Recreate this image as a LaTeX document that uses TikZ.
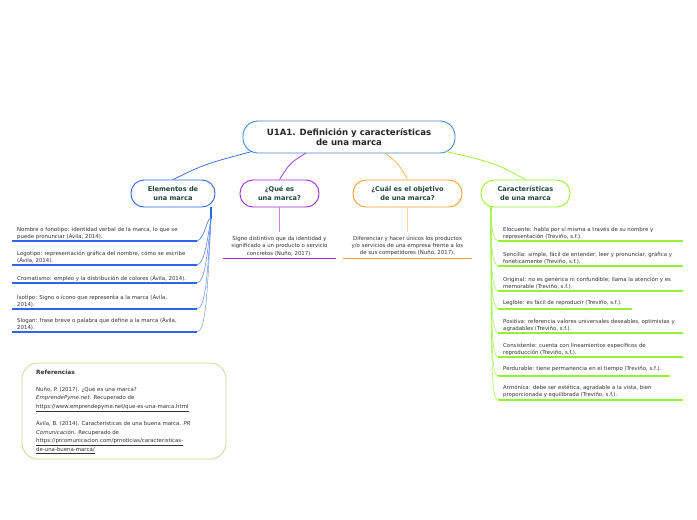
\documentclass[tikz,border=0pt]{standalone}
\usepackage{fontspec}
\setmainfont{DejaVu Sans}
\begin{document}
\begin{tikzpicture}[x=1pt,y=-1pt,
  small/.style={font=\fontsize{5.4}{7.1}\selectfont, text=black!80},
  topic/.style={draw, line width=0.9pt, rounded corners=13pt, minimum height=27pt, align=center,
     font=\fontsize{6.6}{9}\selectfont\bfseries, text={rgb,255:red,30;green,70;blue,55}, fill=white},
  item/.style={small, anchor=south west, inner sep=0pt, align=left},
  citem/.style={small, anchor=south, inner sep=0pt, align=center}]
\definecolor{cblue}{RGB}{45,100,240}
\definecolor{cpurple}{RGB}{160,40,230}
\definecolor{corange}{RGB}{245,160,40}
\definecolor{cgreen}{RGB}{150,240,50}
\definecolor{croot}{RGB}{60,140,210}
\definecolor{cref}{RGB}{210,215,150}
\useasboundingbox (0,0) rectangle (697,520);
\fill[white] (0,0) rectangle (697,520);

% root
\node[draw=croot, line width=0.9pt, rounded corners=15pt, minimum width=212pt, minimum height=32pt,
  align=center, font=\fontsize{8.6}{10.5}\selectfont\bfseries, text=black!85, fill=white] (root) at (349,137)
  {U1A1. Definición y características\\de una marca};

% topics
\node[topic, draw=cblue, minimum width=84pt] (elem) at (173,193.5) {Elementos de\\una marca};
\node[topic, draw=cpurple, minimum width=79pt] (que) at (279.5,193.5) {¿Qué es\\una marca?};
\node[topic, draw=corange, minimum width=109pt] (cual) at (407.5,193.5) {¿Cuál es el objetivo\\de una marca?};
\node[topic, draw=cgreen, minimum width=89pt] (car) at (525.5,193.5) {Características\\de una marca};

% root connectors
\coordinate (rb) at (252,151.5);
\coordinate (rp) at (306,153);
\coordinate (ro) at (385,153);
\coordinate (rg) at (446,151.5);
\draw[cblue, line width=0.7pt] (rb) .. controls (205,164) .. (elem.north);
\draw[cpurple, line width=0.7pt] (rp) .. controls (290,163) .. (que.north);
\draw[corange!80, line width=0.7pt] (ro) .. controls (398,163) .. (cual.north);
\draw[cgreen, line width=0.7pt] (rg) .. controls (495,163) .. (car.north);

% Elementos children
\coordinate (ef) at (211,219);
\draw[cblue, line width=2pt] (211,207) -- (ef);
\foreach \y/\w in {241/0.7,265/0.6,283/0.5,309/0.45,332/0.4} {
  \draw[cblue!80, line width=\w pt] (ef) .. controls (207,\y-25) and (205,\y-2) .. (197,\y);
  \draw[cblue, line width=1.6pt] (12,\y) -- (197,\y);
}
\node[item] (e1) at (17,239.5) {Nombre o fonotipo: identidad verbal de la marca, lo que se\\puede pronunciar (Ávila, 2014).};
\node[item] (e2) at (17,263.5) {Logotipo: representación gráfica del nombre, cómo se escribe\\(Ávila, 2014).};
\node[item] (e3) at (17,281.5) {Cromatismo: empleo y la distribución de colores (Ávila, 2014).};
\node[item] (e4) at (17,307.5) {Isotipo: Signo o ícono que representa a la marca (Ávila,\\2014).};
\node[item] (e5) at (17,330.5) {Slogan: frase breve o palabra que define a la marca (Ávila,\\2014).};

% Qué es
\coordinate (qe) at (279.5,232);
\draw[cpurple!60, line width=0.6pt] (que.south) -- (qe);
\node[citem] (q1) at (279.5,256) {Signo distintivo que da identidad y\\significado a un producto o servicio\\concretos (Nuño, 2017).};
\draw[cpurple, line width=1.6pt] (223,258.5) -- (336,258.5);

% Cuál
\coordinate (ce) at (407.5,232);
\draw[corange!50, line width=0.6pt] (cual.south) -- (ce);
\node[citem] (c1) at (407.5,256) {Diferenciar y hacer únicos los productos\\y/o servicios de una empresa frente a los\\de sus competidores (Nuño, 2017).};
\draw[corange, line width=1.6pt] (343,258.5) -- (472,258.5);

% Características children
\coordinate (gf) at (491,210);
\draw[cgreen, line width=1.6pt] (491,207) -- (gf);
\foreach \y/\e in {241/683,266/683,291/683,309/632,333/683,357/683,376/670,400/683} {
  \draw[cgreen!80, line width=0.6pt] (gf) .. controls (491,\y-20) and (492,\y-2) .. (498,\y);
  \draw[cgreen, line width=1.6pt] (498,\y) -- (\e,\y);
}
\node[item] (g1) at (503,239.5) {Elocuente: habla por sí misma a través de su nombre y\\representación (Treviño, s.f.).};
\node[item] (g2) at (503,264.5) {Sencilla: simple, fácil de entender, leer y pronunciar, gráfica y\\fonéticamente (Treviño, s.f.).};
\node[item] (g3) at (503,289.5) {Original: no es genérica ni confundible; llama la atención y es\\memorable (Treviño, s.f.).};
\node[item] (g4) at (503,305.5) {Legible: es fácil de reproducir (Treviño, s.f.).};
\node[item] (g5) at (503,331.5) {Positiva: referencia valores universales deseables, optimistas y\\agradables (Treviño, s.f.).};
\node[item] (g6) at (503,355.5) {Consistente: cuenta con lineamientos específicos de\\reproducción (Treviño, s.f.).};
\node[item] (g7) at (503,372) {Perdurable: tiene permanencia en el tiempo (Treviño, s.f.).};
\node[item] (g8) at (503,398) {Armónica: debe ser estética, agradable a la vista, bien\\proporcionada y equilibrada (Treviño, s.f.).};

% Referencias
\node[draw=cref, line width=0.8pt, rounded corners=16pt, minimum width=204pt, minimum height=96pt] (refbox) at (124,411) {};
\node[font=\fontsize{5.4}{8.7}\selectfont, text=black!80, anchor=north west, inner sep=0pt, align=left] (reftext) at (36,369.5) {%
{\bfseries\fontsize{5.8}{8.7}\selectfont Referencias}\\[8.3pt]
Nuño, P. (2017). ¿Qué es una marca?\\
\textit{EmprendePyme.net}. Recuperado de\\
\underline{https://www.emprendepyme.net/que-es-una-marca.html}\\[8.3pt]
Ávila, B. (2014). Características de una buena marca. \textit{PR}\\
\textit{Comunicación}. Recuperado de\\
\underline{https://prcomunicacion.com/prnoticias/caracteristicas-}\\
\underline{de-una-buena-marca/}};
\end{tikzpicture}
\end{document}
